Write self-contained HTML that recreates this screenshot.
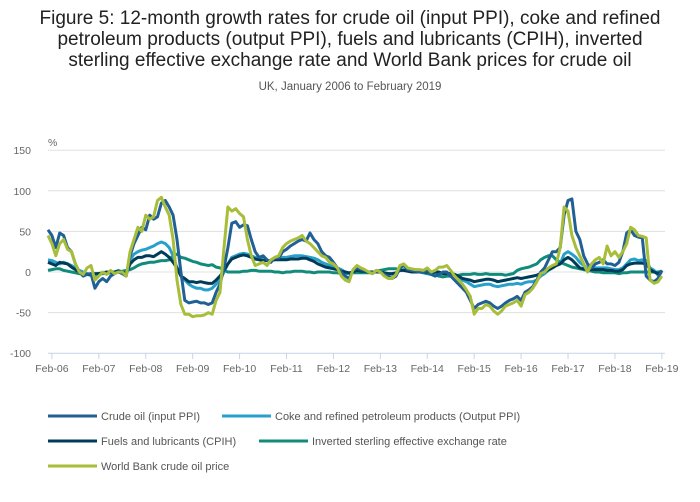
<!DOCTYPE html>
<html><head><meta charset="utf-8"><style>
body{margin:0;background:#fff;font-family:"Liberation Sans",sans-serif;}
#wrap{position:relative;width:700px;height:502px;overflow:hidden;}
</style></head><body>
<div id="wrap">
<svg id="chart" width="700" height="502" xmlns="http://www.w3.org/2000/svg">
<text x="350" y="24" text-anchor="middle" font-size="19" fill="#222"><tspan x="350" y="24">Figure 5: 12-month growth rates for crude oil (input PPI), coke and refined</tspan><tspan x="350" y="45">petroleum products (output PPI), fuels and lubricants (CPIH), inverted</tspan><tspan x="350" y="66">sterling effective exchange rate and World Bank prices for crude oil</tspan></text>
<text x="350" y="90" text-anchor="middle" font-size="11.5" fill="#555">UK, January 2006 to February 2019</text>
<text x="48" y="146" font-size="10.5" fill="#666">%</text>
<g id="grid"></g><g id="series"></g><g id="legend"></g>
</svg>
</div>
<script>
const yTicks=[150,100,50,0,-50,-100];
const xTickLabels=["Feb-06","Feb-07","Feb-08","Feb-09","Feb-10","Feb-11","Feb-12","Feb-13","Feb-14","Feb-15","Feb-16","Feb-17","Feb-18","Feb-19"];
const crudeOil=[52,45,30,48,45,30,25,10,0,-5,-3,-2,
-20,-12,-8,-12,-5,-2,0,-2,-5,20,35,45,
55,52,70,65,68,85,88,80,70,40,0,-35,
-38,-37,-36,-38,-38,-40,-38,-25,-15,5,30,60,
62,55,58,57,40,25,18,20,15,12,18,17,
25,28,32,35,38,40,38,48,40,35,25,20,
18,12,5,0,-5,-8,2,5,3,2,0,-2,
2,0,-3,-5,-8,-5,5,8,3,2,1,0,
0,2,-3,-5,-3,0,0,-5,-10,-15,-20,-25,
-35,-45,-40,-38,-36,-38,-42,-45,-42,-38,-35,-33,
-30,-35,-25,-22,-18,-10,0,5,15,25,25,30,
70,88,90,50,40,20,10,5,10,12,15,10,
10,8,12,25,48,52,45,43,42,-5,-10,-12,
-8,2];
const cokePPI=[15,14,12,10,12,10,8,5,2,0,-2,-3,
-5,-3,-2,-2,-1,0,2,0,-2,15,22,25,
27,28,30,32,35,37,35,30,20,5,-5,-10,
-15,-18,-20,-20,-22,-22,-20,-15,-10,0,10,18,
20,22,23,22,20,18,17,15,14,14,16,17,
18,18,19,20,20,20,19,18,17,15,12,10,
8,7,5,3,0,-2,0,2,2,1,0,0,
0,0,-1,-2,-3,-2,2,3,2,1,0,0,
0,0,-2,-2,-2,-1,-1,-3,-5,-8,-10,-12,
-15,-18,-17,-16,-15,-15,-17,-18,-17,-16,-15,-15,
-14,-15,-13,-12,-12,-10,-5,-2,2,5,8,10,
22,25,22,18,12,8,5,4,5,5,5,5,
4,3,3,5,10,15,16,14,15,14,5,2,
-4,2];
const fuelsCPIH=[12,10,8,12,11,10,6,3,0,-3,-3,-4,
-2,-2,-1,0,0,0,1,0,-2,10,15,18,
18,20,20,19,22,25,22,18,12,5,-5,-8,
-12,-12,-13,-12,-13,-14,-14,-10,-5,2,10,16,
18,20,21,20,18,16,15,14,14,14,15,15,
15,15,16,16,16,17,17,15,13,10,8,6,
5,4,3,1,0,-1,0,2,1,1,0,0,
0,0,-1,-2,-2,-1,2,2,1,0,0,0,
0,0,-1,0,0,-2,-2,-2,-3,-5,-8,-9,
-10,-12,-11,-10,-9,-9,-10,-12,-11,-10,-9,-8,
-7,-8,-7,-6,-5,-4,-2,0,3,5,8,10,
15,18,15,10,5,4,3,3,3,3,3,2,
2,1,1,3,8,10,11,11,11,10,3,0,
-2,0];
const sterling=[2,3,4,4,2,1,0,-1,-2,-2,-3,-3,
-3,-2,-1,-1,0,0,0,1,2,3,5,8,
10,11,12,12,13,14,14,15,20,22,18,17,
15,13,12,10,9,8,9,6,5,2,0,0,
0,0,1,1,2,2,1,1,1,1,0,0,
-1,0,0,1,1,1,0,0,-1,0,0,0,
0,-1,-1,-2,-2,-2,-1,-1,-1,-1,-1,-1,
1,2,3,4,4,4,3,2,1,1,0,0,
-1,-2,-3,-4,-5,-6,-5,-5,-5,-4,-3,-3,
-3,-2,-3,-3,-2,-3,-3,-3,-3,-4,-3,-2,
2,4,5,6,8,10,15,18,20,20,15,12,
10,8,6,5,4,3,2,1,0,0,-1,-1,
-1,-1,-2,-1,-1,0,0,0,0,0,0,0,
0,1];
const worldBank=[45,35,20,35,40,28,25,10,0,-3,5,8,
-10,-5,0,-3,2,-2,0,0,-5,25,40,55,
50,70,65,68,88,92,80,70,40,-10,-40,-52,
-52,-55,-54,-54,-53,-50,-52,-35,-25,30,80,75,
78,72,68,40,20,8,10,12,8,15,18,20,
30,35,38,40,42,45,38,35,30,25,20,18,
12,10,5,-5,-10,-12,3,8,5,3,0,-2,
2,0,-5,-8,-8,-3,8,10,5,4,3,3,
2,5,0,2,6,6,8,2,-5,-10,-15,-22,
-30,-52,-45,-45,-40,-42,-48,-52,-48,-42,-40,-38,
-35,-42,-28,-25,-20,-12,-2,0,5,8,10,30,
80,75,45,30,20,10,0,10,15,18,10,32,
20,25,18,25,35,55,52,45,44,42,-10,-14,
-12,-5];
const seriesNames=["Crude oil (input PPI)","Coke and refined petroleum products (Output PPI)","Fuels and lubricants (CPIH)","Inverted sterling effective exchange rate","World Bank crude oil price"];

const NS="http://www.w3.org/2000/svg";
const x=i=>48+i*3.91;
const y=v=>272-v*0.812;
const grid=document.getElementById('grid');
yTicks.forEach(t=>{
  const l=document.createElementNS(NS,'line');
  l.setAttribute('x1',48);l.setAttribute('x2',665);l.setAttribute('y1',y(t));l.setAttribute('y2',y(t));
  l.setAttribute('stroke',t===-100?'#c7d4e8':'#e0e0e0');l.setAttribute('stroke-width',1);
  
  
  grid.appendChild(l);
  const tx=document.createElementNS(NS,'text');
  tx.setAttribute('x',31);tx.setAttribute('y',y(t)+4);tx.setAttribute('text-anchor','end');
  tx.setAttribute('font-size','10.5');tx.setAttribute('fill','#666');tx.textContent=t;
  
  
  grid.appendChild(tx);
});
xTickLabels.forEach((lab,k)=>{
  const xi=x(1+k*12);
  const l=document.createElementNS(NS,'line');
  l.setAttribute('x1',xi);l.setAttribute('x2',xi);l.setAttribute('y1',353);l.setAttribute('y2',359);
  l.setAttribute('stroke','#c7d4e8');
  
  
  grid.appendChild(l);
  const tx=document.createElementNS(NS,'text');
  tx.setAttribute('x',xi);tx.setAttribute('y',372);tx.setAttribute('text-anchor','middle');
  tx.setAttribute('font-size','10.5');tx.setAttribute('fill','#666');tx.textContent=lab;
  
  
  grid.appendChild(tx);
});
const colors=["#206095","#27a0cc","#003c57","#118c7b","#a8bd3a"];
const data=[crudeOil,cokePPI,fuelsCPIH,sterling,worldBank];
const order=[3,1,2,0,4];
const sg=document.getElementById('series');
order.forEach(s=>{
  const p=document.createElementNS(NS,'path');
  p.setAttribute('d',data[s].map((v,i)=>(i?'L':'M')+x(i).toFixed(1)+','+y(v).toFixed(1)).join(''));
  p.setAttribute('fill','none');p.setAttribute('stroke',colors[s]);p.setAttribute('stroke-width',3);
  p.setAttribute('stroke-linejoin','round');
  
  
  sg.appendChild(p);
});
const leg=[[48,416],[222,416],[48,441],[259,441],[48,466]];
const lg=document.getElementById('legend');
seriesNames.forEach((n,s)=>{
  const [lx,ly]=leg[s];
  const l=document.createElementNS(NS,'line');
  l.setAttribute('x1',lx);l.setAttribute('x2',lx+49);l.setAttribute('y1',ly);l.setAttribute('y2',ly);
  l.setAttribute('stroke',colors[s]);l.setAttribute('stroke-width',3);
  
  
  lg.appendChild(l);
  const t=document.createElementNS(NS,'text');
  t.setAttribute('x',lx+53);t.setAttribute('y',ly+4);t.setAttribute('font-size','11');t.setAttribute('fill','#555');
  t.textContent=n;
  
  
  lg.appendChild(t);
});
</script>
</body></html>
